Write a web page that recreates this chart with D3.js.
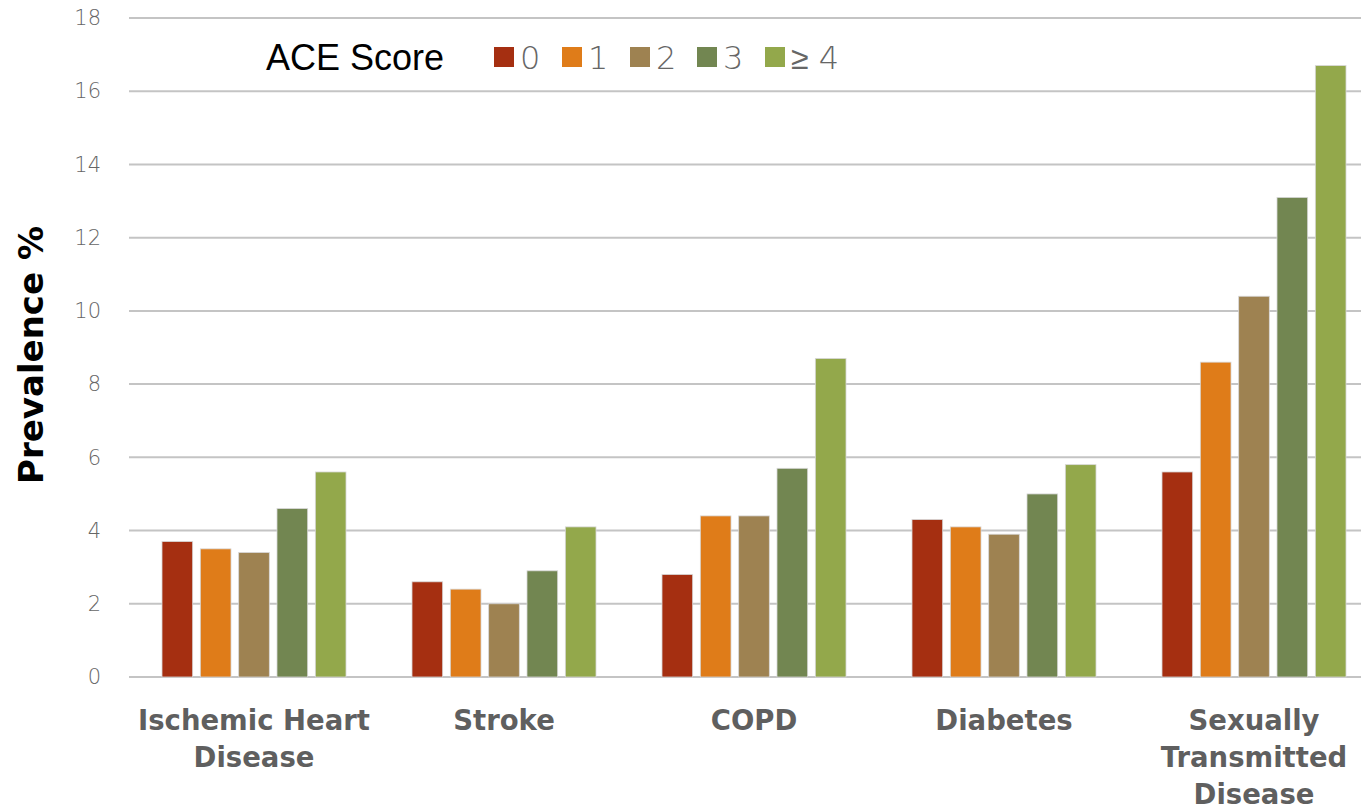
<!DOCTYPE html>
<html>
<head>
<meta charset="utf-8">
<script src="https://cdn.jsdelivr.net/npm/d3@7"></script>
<style>
  body { margin: 0; background: #fff; }
  svg { display: block; }
</style>
</head>
<body>
<script>
// dados do grafico
const categories = [['Ischemic Heart', 'Disease'], ['Stroke'], ['COPD'], ['Diabetes'], ['Sexually', 'Transmitted', 'Disease']];
const aceScores  = ['0', '1', '2', '3', '\u2265 4'];
const values = [
  [3.7, 3.5, 3.4, 4.6, 5.6],
  [2.6, 2.4, 2.0, 2.9, 4.1],
  [2.8, 4.4, 4.4, 5.7, 8.7],
  [4.3, 4.1, 3.9, 5.0, 5.8],
  [5.6, 8.6, 10.4, 13.1, 16.7]
];
const yTicks = [0, 2, 4, 6, 8, 10, 12, 14, 16, 18];
const colors = ['#A52F11', '#DF7C19', '#9E8251', '#728651', '#93A84B'];

const width     = 1361;
const height    = 808;
const plotLeft  = 129;
const plotRight = 1379;
const plotTop   = 18;
const plotBot   = 677;

const svg = d3.select('body').append('svg')
    .attr('width', width)
    .attr('height', height);

const x0 = d3.scaleBand()
    .domain(d3.range(categories.length))
    .range([plotLeft, plotRight])
    .paddingInner(0.264)
    .paddingOuter(0.132);

const x1 = d3.scaleBand()
    .domain(d3.range(aceScores.length))
    .range([0, x0.bandwidth()])
    .paddingInner(0.2);

const y = d3.scaleLinear().domain([0, 18]).range([plotBot, plotTop]);

// GRADE
svg.append('g').selectAll('line')
    .data(yTicks)
    .enter().append('line')
    .attr('x1', plotLeft).attr('x2', width)
    .attr('y1', d => y(d)).attr('y2', d => y(d))
    .attr('stroke', '#c4c4c4')
    .attr('stroke-width', 2);

// EIXO Y
const yAxis = svg.append('g')
    .attr('transform', 'translate(' + 101 + ',0)')
    .call(d3.axisLeft(y).tickValues(yTicks).tickSize(0).tickPadding(0));
yAxis.select('.domain').remove();
yAxis.selectAll('text')
    .attr('font-family', '"DejaVu Sans", sans-serif')
    .attr('font-weight', 200)
    .attr('font-size', 21)
    .attr('fill', '#666');

// BARRAS
const groups = svg.append('g').selectAll('g')
    .data(values)
    .enter().append('g')
    .attr('transform', (d, i) => 'translate(' + x0(i) + ',0)');

groups.selectAll('rect')
    .data(d => d)
    .enter().append('rect')
    .attr('x', (d, i) => x1(i))
    .attr('width', x1.bandwidth())
    .attr('y', d => y(d))
    .attr('height', d => y(0) - y(d))
    .attr('fill', (d, i) => colors[i])
    .attr('stroke', '#d8d8d8')
    .attr('stroke-width', 0.8);

// ROTULOS DAS CATEGORIAS
const catLabels = svg.append('g').selectAll('text')
    .data(categories)
    .enter().append('text')
    .attr('x', (d, i) => x0(i) + x0.bandwidth() / 2)
    .attr('y', 730)
    .attr('text-anchor', 'middle')
    .attr('font-family', '"DejaVu Sans", sans-serif')
    .attr('font-weight', 'bold')
    .attr('font-size', 27.5)
    .attr('fill', '#5f5f5f');

catLabels.selectAll('tspan')
    .data(d => d)
    .enter().append('tspan')
    .attr('x', function() { return d3.select(this.parentNode).attr('x'); })
    .attr('dy', (d, i) => i === 0 ? 0 : 37)
    .text(d => d);

// TITULO DO EIXO Y
svg.append('text')
    .attr('transform', 'translate(43,355) rotate(-90)')
    .attr('text-anchor', 'middle')
    .attr('font-family', '"DejaVu Sans", sans-serif')
    .attr('font-weight', 'bold')
    .attr('font-size', 34)
    .attr('fill', '#000')
    .text('Prevalence %');

// LEGENDA
svg.append('text')
    .attr('x', 266)
    .attr('y', 70)
    .attr('font-family', '"Liberation Sans", Arial, sans-serif')
    .attr('font-size', 36)
    .attr('fill', '#000')
    .text('ACE Score');

const legendX = [494, 562, 630, 697, 765];
const legend = svg.append('g').selectAll('g')
    .data(aceScores)
    .enter().append('g')
    .attr('transform', (d, i) => 'translate(' + legendX[i] + ',0)');

legend.append('rect')
    .attr('x', 0).attr('y', 47)
    .attr('width', 20).attr('height', 20)
    .attr('fill', (d, i) => colors[i]);

legend.append('text')
    .attr('x', 26)
    .attr('y', 69)
    .attr('font-family', '"DejaVu Sans", sans-serif')
    .attr('font-weight', 200)
    .attr('font-size', 32)
    .attr('fill', '#666')
    .text(d => d);
</script>
</body>
</html>
